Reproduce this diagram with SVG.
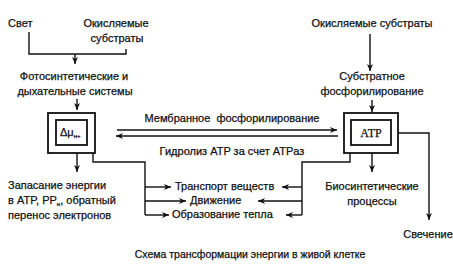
<svg xmlns="http://www.w3.org/2000/svg" width="453" height="274" viewBox="0 0 453 274">
<style>
text{font-family:"Liberation Sans",Arial,sans-serif;font-size:11px;fill:#111;stroke:#111;stroke-width:0.25}
.c{text-anchor:middle}
.ln{fill:none;stroke:#111;stroke-width:1.4}
.bx{fill:#fff;stroke:#111;stroke-width:1.8}
.serif{font-family:"Liberation Serif","Times New Roman",serif;font-size:12px}
.cap{font-family:"Liberation Sans Narrow","Liberation Sans",sans-serif;font-size:10.5px}
</style>
<defs>
<marker id="a" markerWidth="8" markerHeight="8" refX="7" refY="4" orient="auto" markerUnits="userSpaceOnUse">
<path d="M0,1 L7,4 L0,7 L2,4 Z" fill="#111"/>
</marker>
</defs>
<g id="connectors">
<path class="ln" d="M29,32 V54 H126 V49"/>
<path class="ln" d="M75,54 V64" marker-end="url(#a)"/>
<path class="ln" d="M77,99 V110" marker-end="url(#a)"/>
<path class="ln" d="M370,34 V71" marker-end="url(#a)"/>
<path class="ln" d="M372,100 V112" marker-end="url(#a)"/>
<path class="ln" d="M117,130 H337" marker-end="url(#a)"/>
<path class="ln" d="M338,136 H116" marker-end="url(#a)"/>
<path class="ln" d="M77,153 V172" marker-end="url(#a)"/>
<path class="ln" d="M372,153 V172" marker-end="url(#a)"/>
<path class="ln" d="M93,153 V162 H145 V215"/>
<path class="ln" d="M145,187 H171" marker-end="url(#a)"/>
<path class="ln" d="M145,201 H186" marker-end="url(#a)"/>
<path class="ln" d="M145,215 H169" marker-end="url(#a)"/>
<path class="ln" d="M350,153 V162 H302 V215"/>
<path class="ln" d="M302,187 H282" marker-end="url(#a)"/>
<path class="ln" d="M302,201 H258" marker-end="url(#a)"/>
<path class="ln" d="M302,215 H286" marker-end="url(#a)"/>
<path class="ln" d="M398,133 H429 V220" marker-end="url(#a)"/>
</g>
<g id="svet"><text x="8" y="27">Свет</text></g>
<g id="substr1"><text class="c" x="116" y="27">Окисляемые</text><text class="c" x="117" y="42">субстраты</text></g>
<g id="photo"><text class="c" x="74" y="80">Фотосинтетические и</text><text class="c" x="75" y="95">дыхательные системы</text></g>
<g id="substr2"><text class="c" x="372" y="27">Окисляемые субстраты</text></g>
<g id="subphos"><text class="c" x="372" y="80">Субстратное</text><text class="c" x="372" y="95">фосфорилирование</text></g>
<g id="dmu">
<rect class="bx" x="48" y="113" width="47" height="40"/>
<rect class="bx" x="56" y="120" width="31" height="25" stroke-width="1.3"/>
<text x="60" y="136" font-size="11">Δμ<tspan font-size="6" dy="2">н+</tspan></text>
</g>
<g id="atp">
<rect class="bx" x="344" y="113" width="54" height="40"/>
<rect class="bx" x="351" y="120" width="40" height="25" stroke-width="1.3"/>
<text class="c serif" x="371" y="137" stroke-width="0.1">ATP</text>
</g>
<g id="membr"><text class="c" x="232" y="122" xml:space="preserve">Мембранное  фосфорилирование</text></g>
<g id="hydro"><text class="c" x="232" y="155">Гидролиз ATP за счет ATPаз</text></g>
<g id="store"><text x="8" y="189">Запасание энергии</text><text x="8" y="204">в ATP, PP<tspan font-size="6" dy="2">н</tspan><tspan dy="-2">, обратный</tspan></text><text x="8" y="219">перенос электронов</text></g>
<g id="transport"><text x="175" y="190">Транспорт веществ</text></g>
<g id="move"><text x="190" y="204">Движение</text></g>
<g id="heat"><text x="172" y="218">Образование тепла</text></g>
<g id="bio"><text class="c" x="372" y="190">Биосинтетические</text><text class="c" x="372" y="205">процессы</text></g>
<g id="glow"><text class="c" x="428" y="238">Свечение</text></g>
<text class="c cap" x="250" y="258">Схема трансформации энергии в живой клетке</text>
</svg>
